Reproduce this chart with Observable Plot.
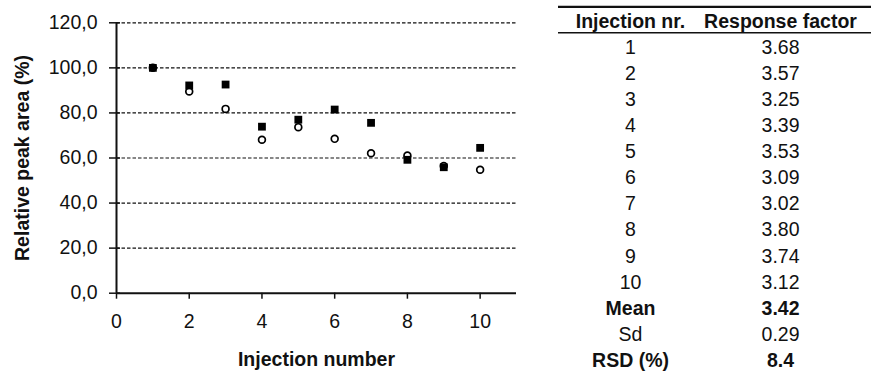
<!DOCTYPE html>
<html>
<head>
<meta charset="utf-8">
<script src="https://cdn.jsdelivr.net/npm/d3@7"></script>
<script src="https://cdn.jsdelivr.net/npm/@observablehq/plot@0.6"></script>
<style>
  html, body { margin: 0; padding: 0; background: #fff; }
  #wrap { display: flex; flex-direction: row; width: 871px; height: 371px; overflow: hidden; }
  #wrap svg text { font-size: 19.5px; font-family: 'Liberation Sans', Arial, Helvetica, sans-serif; }
</style>
</head>
<body>
<div id="wrap"></div>
<script>
// ---- Data ----
const injections = [1, 2, 3, 4, 5, 6, 7, 8, 9, 10];
const seriesFilledSquares = [100.0, 92.2, 92.6, 73.9, 77.0, 81.5, 75.6, 59.2, 55.9, 64.5];
const seriesOpenCircles = [100.0, 89.5, 81.8, 68.1, 73.7, 68.5, 62.1, 61.1, 56.5, 54.8];
const yTicks = [0, 20, 40, 60, 80, 100, 120];
const xTicks = [0, 2, 4, 6, 8, 10];
const yTitle = "Relative peak area (%)";
const xTitle = "Injection number";

const tableHeaders = ["Injection nr.", "Response factor"];
const responseFactors = [3.68, 3.57, 3.25, 3.39, 3.53, 3.09, 3.02, 3.80, 3.74, 3.12];
const statLabels = ["Mean", "Sd", "RSD (%)"];
const statValues = ["3.42", "0.29", "8.4"];
const statBold = [true, false, true];

// ---- Chart ----
const FONT = "'Liberation Sans', Arial, Helvetica, sans-serif";
const FS = 19.5;
const INK = "#111";
const squares = injections.map((x, i) => ({x, y: seriesFilledSquares[i]}));
const circles = injections.map((x, i) => ({x, y: seriesOpenCircles[i]}));
const fmt = d => d3.format(".1f")(d).replace(".", ",");

const chart = Plot.plot({
  width: 545,
  height: 371,
  marginLeft: 116,
  marginRight: 29,
  marginTop: 22.3,
  marginBottom: 78.3,
  style: {fontFamily: FONT, fontSize: FS + "px", color: INK, background: "#fff"},
  x: {domain: [0, 11]},
  y: {domain: [0, 120]},
  marks: [
    Plot.gridY(yTicks.filter(d => d > 0), {stroke: INK, strokeOpacity: 1, strokeWidth: 1.2, strokeDasharray: "3.5,2"}),
    Plot.axisY(yTicks, {anchor: "left", tickSize: 7, tickPadding: 12, tickFormat: fmt, label: null, stroke: INK, strokeWidth: 1.5, fontSize: FS, fill: INK}),
    Plot.axisY(yTicks, {anchor: "left", tickSize: 4, dx: 4, tickFormat: () => "", label: null, stroke: INK, strokeWidth: 1.5}),
    Plot.axisX(xTicks, {anchor: "bottom", tickSize: 6, tickPadding: 15, tickFormat: d => String(d), label: null, stroke: INK, strokeWidth: 1.5, fontSize: FS, fill: INK}),
    Plot.ruleX([0], {y1: 0, y2: 120, stroke: INK, strokeWidth: 2}),
    Plot.ruleY([0], {x1: 0, x2: 11, stroke: INK, strokeWidth: 2}),
    Plot.dot(circles, {x: "x", y: "y", r: 3.4, fill: "#fff", stroke: "#000", strokeWidth: 1.7}),
    Plot.dot(squares, {x: "x", y: "y", r: 4.4, symbol: "square", fill: "#000", stroke: "none"}),
    Plot.text([yTitle], {frameAnchor: "left", textAnchor: "middle", lineAnchor: "middle", rotate: -90, dx: -94, fontWeight: "bold", fontSize: FS, fill: INK}),
    Plot.text([xTitle], {frameAnchor: "bottom", textAnchor: "middle", lineAnchor: "middle", dy: 67, fontWeight: "bold", fontSize: FS, fill: INK})
  ]
});

// ---- Table ----
const rows = [];
tableHeaders.forEach(h => rows.push({row: 0, col: h, text: h, bold: true}));
injections.forEach((n, i) => {
  rows.push({row: i + 1, col: tableHeaders[0], text: String(n), bold: false});
  rows.push({row: i + 1, col: tableHeaders[1], text: responseFactors[i].toFixed(2), bold: false});
});
statLabels.forEach((s, j) => {
  const r = injections.length + 1 + j;
  rows.push({row: r, col: tableHeaders[0], text: s, bold: statBold[j]});
  rows.push({row: r, col: tableHeaders[1], text: statValues[j], bold: statBold[j]});
});
const nRows = injections.length + statLabels.length;

const table = Plot.plot({
  width: 326,
  height: 371,
  marginLeft: 0,
  marginRight: 0,
  marginTop: 21.3,
  marginBottom: 11,
  style: {fontFamily: FONT, fontSize: FS + "px", color: INK, background: "#fff"},
  x: {type: "point", domain: tableHeaders, range: [85, 235], padding: 0, axis: null},
  y: {domain: [0, nRows], reverse: true, axis: null},
  marks: [
    Plot.ruleY([0], {insetLeft: 13, dy: -15, stroke: INK, strokeWidth: 2.2}),
    Plot.ruleY([0], {insetLeft: 13, dy: 11, stroke: INK, strokeWidth: 1.6}),
    Plot.text(rows.filter(d => !d.bold), {x: "col", y: "row", text: "text", fill: INK, fontSize: FS}),
    Plot.text(rows.filter(d => d.bold), {x: "col", y: "row", text: "text", fill: INK, fontSize: FS, fontWeight: "bold"})
  ]
});

document.getElementById("wrap").append(chart, table);
</script>
</body>
</html>
